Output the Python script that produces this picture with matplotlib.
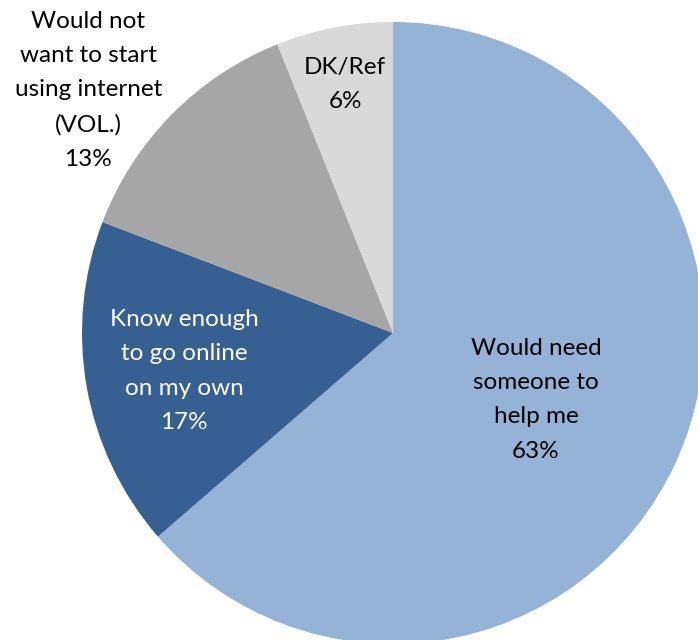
import matplotlib
matplotlib.use('Agg')
import matplotlib.pyplot as plt

# Datos del gráfico
etiquetas = ['Would need\nsomeone to\nhelp me', 'Know enough\nto go online\non my own',
             'Would not\nwant to start\nusing internet\n(VOL.)', 'DK/Ref']
valores = [63, 17, 13, 6]
colores = ['#95B3D7', '#376092', '#A6A6A6', '#D9D9D9']
color_texto = ['black', 'white', 'black', 'black']
# posición de cada etiqueta (en coordenadas del círculo, radio 1)
pos_etiquetas = [(0.46, -0.215), (-0.672, -0.122), (-0.98, 0.78), (-0.154, 0.80)]

plt.rcParams['font.family'] = ['Lato', 'DejaVu Sans']

fig = plt.figure(figsize=(6.98, 6.40), dpi=100)
W, H = 698, 640
cx, cy, r = 393, 333, 311
ax = fig.add_axes([(cx - r) / W, (H - cy - r) / H, 2 * r / W, 2 * r / H])

wedges, _ = ax.pie(valores, colors=colores, startangle=90, counterclock=False,
                   radius=1, wedgeprops=dict(linewidth=0))
for w in wedges:
    w.set_clip_on(False)

for lab, v, (x, y), c in zip(etiquetas, valores, pos_etiquetas, color_texto):
    ax.text(x, y, f'{lab}\n{v}%', ha='center', va='center', fontsize=17.5,
            color=c, linespacing=1.78, clip_on=False)

ax.set_xlim(-1, 1)
ax.set_ylim(-1, 1)
ax.set_aspect('equal')
ax.axis('off')

fig.savefig('out.png', dpi=100)
